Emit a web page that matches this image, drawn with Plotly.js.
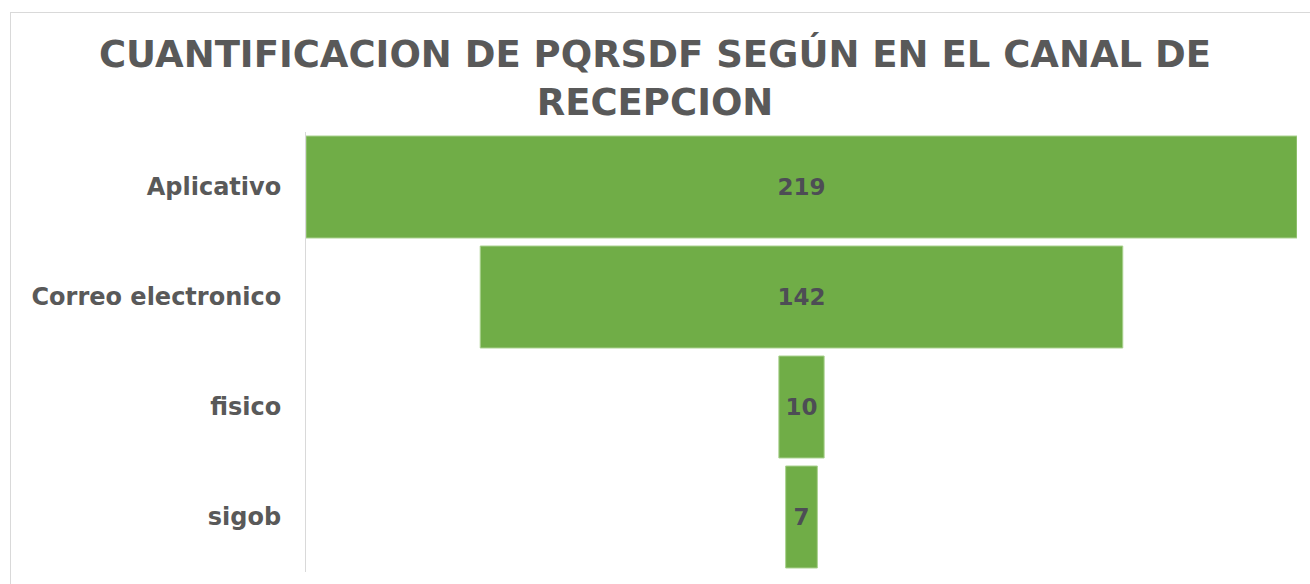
<!DOCTYPE html>
<html>
<head>
<meta charset="utf-8">
<script src="https://cdn.plot.ly/plotly-3.0.1.min.js"></script>
<style>
  html, body { margin: 0; padding: 0; background: #ffffff; overflow: hidden; }
  #wrap { position: relative; width: 1310px; height: 584px; }
  #chart { position: absolute; left: 0; top: 0; width: 1310px; height: 584px; }
  #frame { position: absolute; left: 10px; top: 12px; width: 1320px; height: 600px;
           border: 1px solid #d9d9d9; box-sizing: border-box; pointer-events: none; }
</style>
</head>
<body>
<div id="wrap">
  <div id="chart"></div>
  <div id="frame"></div>
</div>
<script>
const categories = ["Aplicativo", "Correo electronico", "fisico", "sigob"];
const values = [219, 142, 10, 7];
const titleText = "CUANTIFICACION DE PQRSDF SEGÚN EN EL CANAL DE<br>RECEPCION";

const maxVal = Math.max(...values);

const trace = {
  type: "funnel",
  y: categories,
  x: values,
  textinfo: "value",
  textposition: "inside",
  insidetextanchor: "middle",
  textfont: { family: "DejaVu Sans", size: 23, color: "#4d4d55", weight: "bold" },
  marker: { color: "#70AD47", line: { color: "#a9d18e", width: 1 } },
  connector: { visible: false },
  hoverinfo: "none"
};

const layout = {
  width: 1310,
  height: 584,
  paper_bgcolor: "#ffffff",
  plot_bgcolor: "#ffffff",
  margin: { l: 306, r: 13, t: 132, b: 12 },
  showlegend: false,
  funnelgap: 0.073,
  title: {
    text: titleText,
    font: { family: "DejaVu Sans", size: 37, color: "#595959", weight: "bold" },
    x: 0.5, xref: "container", xanchor: "center",
    y: 0.886, yref: "container", yanchor: "middle"
  },
  xaxis: {
    visible: false,
    range: [-maxVal / 2, maxVal / 2],
    fixedrange: true
  },
  yaxis: {
    type: "category",
    autorange: "reversed",
    showline: true,
    linecolor: "#d9d9d9",
    linewidth: 1,
    showgrid: false,
    zeroline: false,
    ticks: "",
    ticklabelstandoff: 19,
    tickfont: { family: "DejaVu Sans", size: 24, color: "#595959", weight: "bold" }
  }
};

Plotly.newPlot("chart", [trace], layout, { displayModeBar: false, staticPlot: true });
</script>
</body>
</html>
